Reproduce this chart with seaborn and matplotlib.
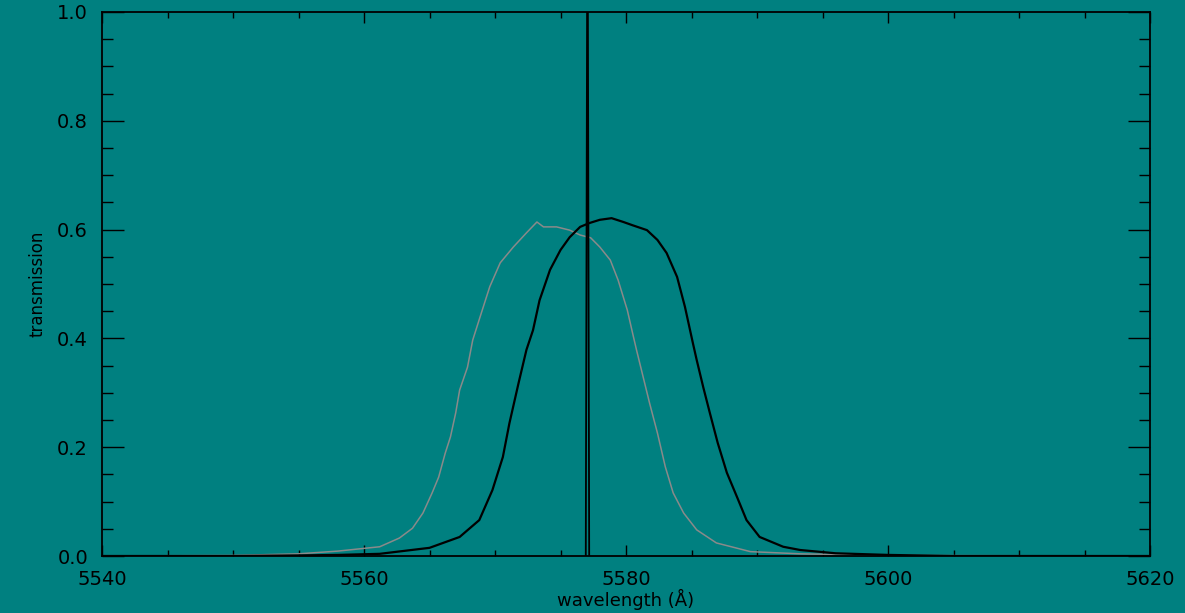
import numpy as np
import pandas as pd
import matplotlib
matplotlib.use("Agg")
import matplotlib.pyplot as plt
from matplotlib.ticker import MultipleLocator
import seaborn as sns

# filter curve shifted blue (grey) and nominal filter curve (black)
grey_wl = [5540.0, 5550.0, 5555.0, 5558.0, 5561.2, 5562.7, 5563.7, 5564.5, 5565.2, 5565.7,
           5566.2, 5566.6, 5567.0, 5567.3, 5567.9, 5568.3, 5569.0, 5569.6, 5570.4, 5571.4,
           5572.4, 5573.2, 5573.7, 5574.7, 5575.7, 5576.5, 5577.3, 5578.0, 5578.8, 5579.4,
           5580.1, 5580.5, 5580.8, 5581.8, 5582.4, 5583.0, 5583.6, 5584.4, 5585.4, 5586.9,
           5589.5, 5593.3, 5600.0, 5620.0]
grey_t = [0.0, 0.001, 0.004, 0.009, 0.017, 0.033, 0.051, 0.079, 0.116, 0.145,
          0.189, 0.219, 0.263, 0.305, 0.347, 0.397, 0.45, 0.495, 0.539, 0.568,
          0.594, 0.614, 0.605, 0.605, 0.599, 0.590, 0.585, 0.568, 0.544, 0.507,
          0.452, 0.41, 0.379, 0.281, 0.226, 0.164, 0.116, 0.079, 0.048, 0.024,
          0.008, 0.004, 0.001, 0.0]

black_wl = [5540.0, 5550.0, 5555.0, 5558.0, 5561.2, 5565.0, 5567.3, 5568.8, 5569.8, 5570.6,
            5571.1, 5571.8, 5572.4, 5572.9, 5573.4, 5574.2, 5575.0, 5575.7, 5576.5, 5577.2,
            5578.0, 5578.9, 5579.8, 5580.5, 5581.6, 5582.4, 5583.1, 5583.9, 5584.5, 5585.1,
            5585.4, 5585.9, 5586.4, 5587.0, 5587.7, 5588.5, 5589.2, 5590.2, 5592.0, 5593.3,
            5596.0, 5600.0, 5605.0, 5620.0]
black_t = [0.0, 0.0, 0.001, 0.002, 0.004, 0.015, 0.035, 0.066, 0.121, 0.182,
           0.244, 0.318, 0.379, 0.415, 0.47, 0.526, 0.5625, 0.586, 0.605, 0.612,
           0.618, 0.621, 0.614, 0.608, 0.599, 0.581, 0.557, 0.513, 0.458, 0.392,
           0.36, 0.31, 0.263, 0.208, 0.153, 0.107, 0.066, 0.035, 0.017, 0.011,
           0.005, 0.002, 0.0, 0.0]

# the 5577 emission line
line_wl = [5576.93, 5576.98, 5577.06, 5577.14, 5577.19]
line_t = [0.0, 0.5, 1.3, 0.5, 0.0]

teal = "#008080"
sns.set_theme(style="ticks")
plt.rcParams.update({
    "figure.facecolor": teal,
    "axes.facecolor": teal,
    "axes.edgecolor": "black",
    "axes.linewidth": 1.3,
    "text.color": "black",
    "axes.labelcolor": "black",
    "xtick.color": "black",
    "ytick.color": "black",
    "xtick.direction": "in",
    "ytick.direction": "in",
})
plt.rcParams["font.family"] = ["DejaVu Sans"]

fig = plt.figure(figsize=(11.85, 6.13), dpi=100)
ax = fig.add_axes([102 / 1185, 57 / 613, 1048 / 1185, 544 / 613])

grey = pd.DataFrame({"wl": grey_wl, "t": grey_t})
black = pd.DataFrame({"wl": black_wl, "t": black_t})
line = pd.DataFrame({"wl": line_wl, "t": line_t})

sns.lineplot(data=grey, x="wl", y="t", ax=ax, color="#8a8a8a", linewidth=1.1)
sns.lineplot(data=black, x="wl", y="t", ax=ax, color="black", linewidth=1.6)
sns.lineplot(data=line, x="wl", y="t", ax=ax, color="black", linewidth=1.3)

ax.set_xlim(5540, 5620)
ax.set_ylim(0, 1.0)
ax.xaxis.set_major_locator(MultipleLocator(20))
ax.xaxis.set_minor_locator(MultipleLocator(5))
ax.yaxis.set_major_locator(MultipleLocator(0.2))
ax.yaxis.set_minor_locator(MultipleLocator(0.05))
ax.yaxis.set_major_formatter(plt.FuncFormatter(lambda v, p: f"{v:.1f}"))

ax.tick_params(axis="x", which="major", length=8, width=1, top=True, bottom=True,
               labelsize=14, pad=10)
ax.tick_params(axis="x", which="minor", length=4, width=1, top=True, bottom=True)
ax.tick_params(axis="y", which="major", length=16, width=1, left=True, right=True,
               labelsize=14, pad=10)
ax.tick_params(axis="y", which="minor", length=8, width=1, left=True, right=True)

ax.set_xlabel("wavelength (Å)", fontsize=13, labelpad=0)
ax.set_ylabel("transmission", fontsize=12, labelpad=8)

fig.savefig("out.png", dpi=100, facecolor=teal)
